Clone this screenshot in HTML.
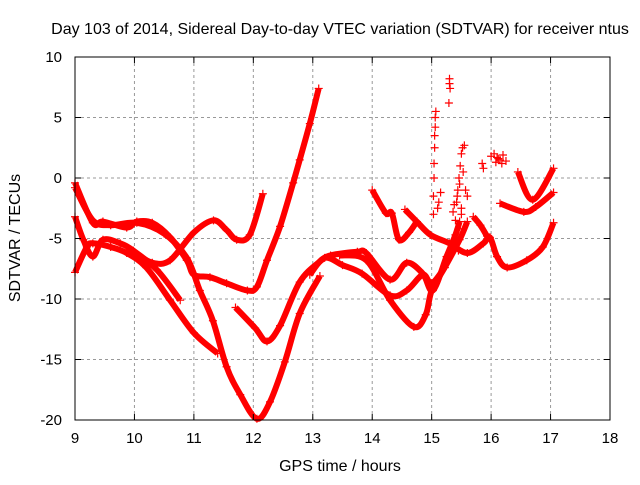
<!DOCTYPE html>
<html><head><meta charset="utf-8"><style>
body{margin:0;background:#fff}
svg text{font-family:"Liberation Sans",sans-serif;fill:#000}
</style></head><body>
<svg id="chart" width="640" height="480" viewBox="0 0 640 480">
<rect width="640" height="480" fill="#fff"/>
<text x="340" y="34" font-size="16" text-anchor="middle">Day 103 of 2014, Sidereal Day-to-day VTEC variation (SDTVAR) for receiver ntus</text>
<text x="340" y="471" font-size="16" text-anchor="middle">GPS time / hours</text>
<text x="20" y="238" font-size="16" text-anchor="middle" transform="rotate(-90 20 238)">SDTVAR / TECUs</text>
<g id="grid"></g><g id="marks"></g><g id="axes"></g>
</svg>
<script>
const xTicks=[9,10,11,12,13,14,15,16,17,18];
const yTicks=[-20,-15,-10,-5,0,5,10];
const c1x=[9.0,9.3,9.47,9.87,10.04,10.3,10.6,10.88,11.0,11.27,11.55,11.9,12.06,12.23,12.45,12.67,12.78,12.95,13.1];
const c1y=[-0.4,-3.7,-3.6,-4.1,-3.6,-3.7,-4.9,-6.8,-8.0,-8.2,-8.7,-9.3,-9.0,-6.8,-4.0,-0.4,1.5,4.5,7.4];
const c2x=[9.0,9.14,9.3,9.47,9.76,9.98,10.38,10.77];
const c2y=[-3.2,-5.1,-6.5,-5.1,-5.4,-6.0,-7.6,-10.1];
const c3x=[9.0,9.2,9.3,9.6,9.87,10.2,10.6,11.0,11.4];
const c3y=[-7.8,-5.7,-5.4,-5.7,-6.2,-7.4,-10.1,-12.8,-14.5];
const c4x=[9.0,9.3,9.6,10.04,10.5,10.88,11.1,11.32,11.55,11.78,12.06,12.28,12.53,12.78,13.12];
const c4y=[-0.8,-3.5,-3.9,-3.7,-4.6,-6.6,-9.3,-11.8,-15.6,-17.9,-19.9,-18.5,-15.2,-11.2,-8.1];
const c5x=[9.98,10.3,10.6,11.0,11.33,11.55,11.72,11.94,12.16];
const c5y=[-6.1,-7.0,-6.8,-4.5,-3.5,-4.3,-5.1,-4.7,-1.3];
const c6x=[11.7,12.03,12.23,12.45,12.78,13.12,13.3,13.75,13.9,14.3,14.58,14.85,15.02,15.25,15.4,15.47];
const c6y=[-10.7,-12.4,-13.5,-12.2,-8.6,-6.9,-6.4,-6.1,-6.2,-8.4,-7.0,-7.9,-9.3,-6.5,-4.7,-3.6];
const c7x=[12.95,13.2,13.5,13.83,14.3,14.58,14.85,15.0,15.22];
const c7y=[-8.0,-6.6,-7.2,-7.9,-9.7,-9.3,-8.0,-8.7,-7.4];
const c8x=[13.45,13.9,14.3,14.7,14.9,15.0,15.22,15.47,15.6];
const c8y=[-6.4,-6.8,-10.1,-12.3,-11.3,-9.3,-7.4,-5.1,-3.6];
const c9x=[14.0,14.23,14.33,14.45,14.62,14.75];
const c9y=[-1.0,-2.9,-2.9,-5.1,-4.5,-3.6];
const c10x=[14.55,14.75,14.98,15.3,15.6,15.87,15.98,16.1,16.27,16.6,16.87,17.05];
const c10y=[-2.6,-3.6,-4.7,-5.4,-6.2,-5.4,-4.9,-6.5,-7.4,-6.8,-5.7,-3.7];
const c11x=[15.7,15.82,15.93];
const c11y=[-3.2,-3.9,-4.8];
const c12x=[16.15,16.55,16.75,17.05];
const c12y=[-2.1,-2.8,-2.4,-1.2];
const c13x=[16.45,16.7,17.05];
const c13y=[0.5,-1.8,0.8];
const scatterX=[15.03,15.03,15.04,15.04,15.05,15.05,15.06,15.06,15.07,15.3,15.3,15.31,15.29,15.4,15.42,15.44,15.46,15.48,15.5,15.52,15.55,15.45,15.5,15.57,15.6,15.85,15.87,16.0,16.05,16.1,16.15,16.2,16.25,15.4,15.45,15.5,15.36,15.1,15.12,15.15,15.38,15.43,15.47,15.53,16.08,16.12,16.18];
const scatterY=[-3.0,-1.5,0.0,1.2,2.5,3.5,4.2,5.0,5.5,8.2,7.8,7.4,6.2,-3.5,-2.0,-1.0,0.0,1.0,2.0,2.5,2.7,-4.2,-2.5,-1.0,-1.5,1.2,0.8,1.8,2.0,1.7,1.5,1.9,1.4,-5.0,-6.0,-3.0,-2.8,-2.5,-2.0,-1.2,-2.2,-1.5,-0.5,0.5,1.3,1.6,1.2];
const seriesX=[c1x,c2x,c3x,c4x,c5x,c6x,c7x,c8x,c9x,c10x,c11x,c12x,c13x];
const seriesY=[c1y,c2y,c3y,c4y,c5y,c6y,c7y,c8y,c9y,c10y,c11y,c12y,c13y];

const L=75,R=610,T=57,B=420,xmin=9,xmax=18,ymin=-20,ymax=10;
const sx=v=>L+(v-xmin)*(R-L)/(xmax-xmin);
const sy=v=>B-(v-ymin)*(B-T)/(ymax-ymin);
const NS="http://www.w3.org/2000/svg";
function mk(tag,attrs,parent){const e=document.createElementNS(NS,tag);for(const k in attrs)e.setAttribute(k,attrs[k]);parent.appendChild(e);return e;}
const grid=document.getElementById('grid'),marks=document.getElementById('marks'),axes=document.getElementById('axes');
xTicks.forEach(t=>{
  if(t>xmin&&t<xmax){const g=mk('line',{x1:sx(t),x2:sx(t),y1:T,y2:B,stroke:'#999','stroke-dasharray':'3,3'},grid);
  
  }
  const tk=mk('line',{x1:sx(t),x2:sx(t),y1:B,y2:B-6,stroke:'#000'},axes);
  
  
  const tk2=mk('line',{x1:sx(t),x2:sx(t),y1:T,y2:T+6,stroke:'#000'},axes);
  
  
  const tx=mk('text',{x:sx(t),y:443,'font-size':15,'text-anchor':'middle'},axes);tx.textContent=t;
  
  
});
yTicks.forEach(t=>{
  if(t>ymin&&t<ymax){const g=mk('line',{x1:L,x2:R,y1:sy(t),y2:sy(t),stroke:'#999','stroke-dasharray':'3,3'},grid);
  
  }
  const tk=mk('line',{x1:L,x2:L+6,y1:sy(t),y2:sy(t),stroke:'#000'},axes);
  
  
  const tk2=mk('line',{x1:R,x2:R-6,y1:sy(t),y2:sy(t),stroke:'#000'},axes);
  
  
  const tx=mk('text',{x:L-13,y:sy(t)+5,'font-size':15,'text-anchor':'end'},axes);tx.textContent=t;
  
  
});
const frame=mk('rect',{x:L,y:T,width:R-L,height:B-T,fill:'none',stroke:'#000'},axes);


function plus(x,y,parent){
  const p=mk('path',{d:`M${x-4},${y}h8M${x},${y-4}v8`,stroke:'#f00','stroke-width':1.2,fill:'none'},parent);
  
  
}
function smooth(pts){
  let d='M'+pts[0][0].toFixed(1)+','+pts[0][1].toFixed(1);
  for(let i=0;i<pts.length-1;i++){
    const p0=pts[Math.max(0,i-1)],p1=pts[i],p2=pts[i+1],p3=pts[Math.min(pts.length-1,i+2)];
    const c1=[p1[0]+(p2[0]-p0[0])/6,p1[1]+(p2[1]-p0[1])/6];
    const c2=[p2[0]-(p3[0]-p1[0])/6,p2[1]-(p3[1]-p1[1])/6];
    d+='C'+c1[0].toFixed(1)+','+c1[1].toFixed(1)+' '+c2[0].toFixed(1)+','+c2[1].toFixed(1)+' '+p2[0].toFixed(1)+','+p2[1].toFixed(1);
  }
  return d;
}
seriesX.forEach((xs,i)=>{
  const ys=seriesY[i];
  const g=mk('g',{},marks);
  
  
  const pts=xs.map((x,j)=>[sx(x),sy(ys[j])]);
  const pl=mk('path',{d:smooth(pts),stroke:'#f00','stroke-width':6,fill:'none','stroke-linejoin':'round'},g);
  
  
  pts.forEach(p=>plus(p[0],p[1],g));
});
const sg=mk('g',{},marks);


scatterX.forEach((x,j)=>plus(sx(x),sy(scatterY[j]),sg));
</script>
</body></html>
